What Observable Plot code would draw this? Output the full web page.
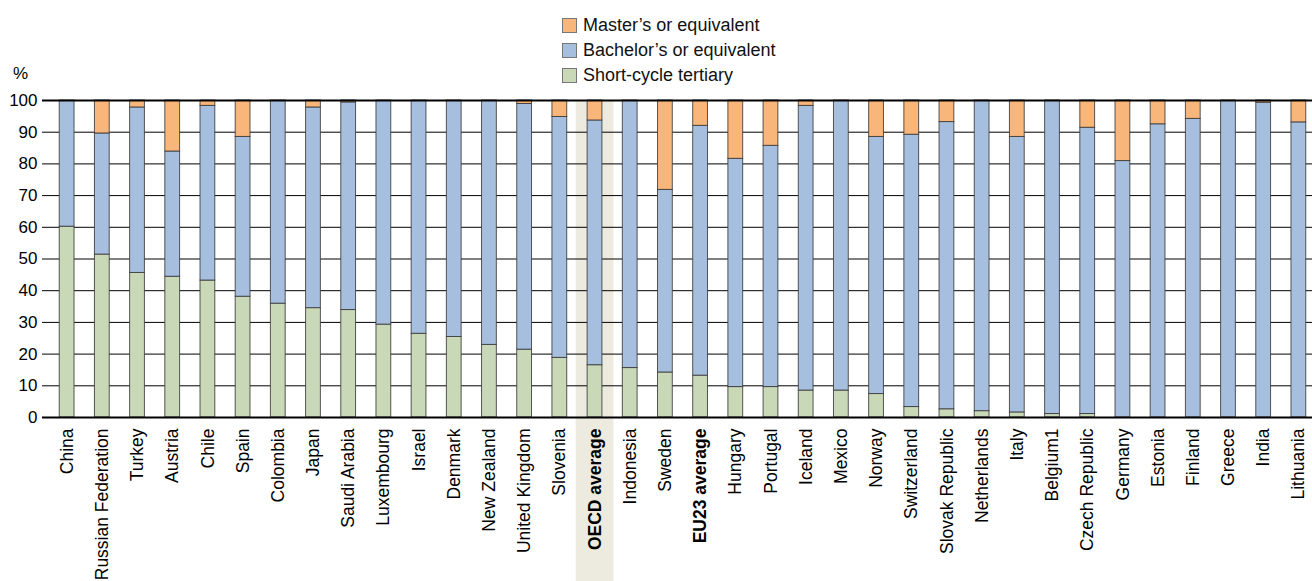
<!DOCTYPE html>
<html>
<head>
<meta charset="utf-8">
<script src="https://cdn.jsdelivr.net/npm/d3@7"></script>
<script src="https://cdn.jsdelivr.net/npm/@observablehq/plot@0.6"></script>
<style>
  html, body { margin: 0; padding: 0; background: #fff; }
  body { font-family: "Liberation Sans", Arial, sans-serif; color: #000; width: 1312px; overflow: hidden; }
  #header { position: relative; height: 88px; }
  .lg { position: absolute; left: 562px; height: 16px; display: flex; align-items: center; font-size: 18px; white-space: nowrap; color: #111; }
  .lg span.sw { display: inline-block; width: 15px; height: 15px; box-sizing: border-box; border: 1px solid #777; margin-right: 6px; flex: none; }
  #pct { position: absolute; left: 13px; top: 64px; font-size: 17px; }
</style>
</head>
<body>
<div id="header"></div>
<div id="chart"></div>
<script>
const countries = ["China","Russian Federation","Turkey","Austria","Chile","Spain","Colombia","Japan","Saudi Arabia","Luxembourg","Israel","Denmark","New Zealand","United Kingdom","Slovenia","OECD average","Indonesia","Sweden","EU23 average","Hungary","Portugal","Iceland","Mexico","Norway","Switzerland","Slovak Republic","Netherlands","Italy","Belgium1","Czech Republic","Germany","Estonia","Finland","Greece","India","Lithuania"];
const shortCycle = [60.2,51.4,45.6,44.4,43.2,38.1,35.9,34.5,33.9,29.3,26.4,25.4,22.9,21.4,18.8,16.5,15.6,14.2,13.2,9.6,9.6,8.5,8.5,7.4,3.3,2.6,2.0,1.6,1.1,1.1,0,0,0,0,0,0];
const bachelor   = [39.8,38.2,52.2,39.5,55.1,50.4,64.1,63.3,65.5,70.7,73.6,74.6,77.1,77.5,76.0,77.2,84.4,57.6,78.8,72.0,76.1,89.8,91.5,81.1,85.9,90.6,98.0,86.9,98.9,90.3,80.9,92.5,94.2,100,99.3,93.1];
const master     = [0,10.4,2.2,16.1,1.7,11.5,0,2.2,0.6,0,0,0,0,1.1,5.2,6.3,0,28.2,8.0,18.4,14.3,1.7,0,11.5,10.8,6.8,0,11.5,0,8.6,19.1,7.5,5.8,0,0.7,6.9];
const levels = ["Short-cycle tertiary","Bachelor’s or equivalent","Master’s or equivalent"];
const levelColors = ["#C9D9B8","#A7BFDE","#F9B67B"];
const legendOrder = ["Master’s or equivalent","Bachelor’s or equivalent","Short-cycle tertiary"];
const yTicks = [0,10,20,30,40,50,60,70,80,90,100];
const averages = ["OECD average","EU23 average"];
const highlighted = ["OECD average"];

// legend
const header = document.getElementById("header");
legendOrder.forEach((l, i) => {
  const d = document.createElement("div");
  d.className = "lg";
  d.style.top = (17 + i * 25) + "px";
  d.innerHTML = `<span class="sw" style="background:${levelColors[levels.indexOf(l)]}"></span>${l}`;
  header.appendChild(d);
});
const pct = document.createElement("div");
pct.id = "pct"; pct.textContent = "%";
header.appendChild(pct);

// long data
const data = [];
countries.forEach((c, i) => {
  [shortCycle, bachelor, master].forEach((arr, j) => {
    data.push({country: c, level: levels[j], value: arr[i]});
  });
});

const width = 1312, height = 493, marginTop = 12, marginBottom = 164, marginLeft = 42;
const pxPerUnit = (height - marginTop - marginBottom) / 100;
const yBelow = -marginBottom / pxPerUnit;

const chart = Plot.plot({
  width, height, marginTop, marginBottom, marginLeft, marginRight: 0,
  style: {fontFamily: "'Liberation Sans', Arial, sans-serif", fontSize: "17px", color: "#000", background: "transparent", overflow: "visible"},
  x: {type: "band", domain: countries, range: [42, 1323], paddingInner: 0.58, paddingOuter: 0.49, round: false, label: null},
  y: {domain: [0, 100], label: null},
  color: {domain: levels, range: levelColors},
  marks: [
    Plot.barY(highlighted, {x: d => d, y1: 100, y2: yBelow, fill: "#EDEBE0", insetLeft: -11.5, insetRight: -11.5}),
    Plot.ruleY(yTicks.filter(t => t > 0 && t < 100), {stroke: "#000", strokeWidth: 1}),
    Plot.barY(data, {x: "country", y: "value", z: "level", fill: "level", order: levels, stroke: "#3a3a3a", strokeWidth: 1, strokeOpacity: 0.85}),
    Plot.ruleY([0, 100], {stroke: "#000", strokeWidth: 2}),
    Plot.axisY(yTicks, {tickSize: 0, tickPadding: 5, fontSize: 17, label: null}),
    Plot.axisX(countries.filter(c => !averages.includes(c)), {tickSize: 0, tickPadding: 11, tickRotate: -90, fontSize: 17.5, label: null}),
    Plot.axisX(averages, {tickSize: 0, tickPadding: 11, tickRotate: -90, fontSize: 17.5, fontWeight: "bold", label: null})
  ]
});
document.getElementById("chart").appendChild(chart);
</script>
</body>
</html>
